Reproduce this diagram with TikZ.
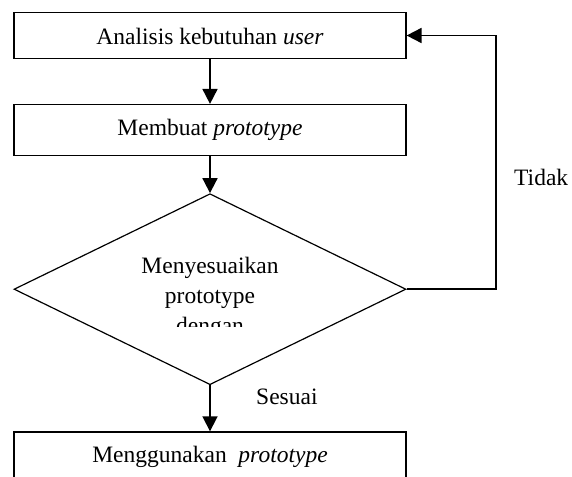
\documentclass[tikz,border=0pt]{standalone}
\usepackage{fontspec}
\setmainfont{Liberation Serif}
\usetikzlibrary{arrows.meta,positioning,shapes.geometric}

\begin{document}
\begin{tikzpicture}[x=1pt, y=-1pt, every node/.style={font=\fontsize{23.5}{30.3}\selectfont},
    box/.style={draw, line width=1.2pt, minimum width=392pt, inner xsep=0pt, inner ysep=0pt},
    arr/.style={line width=1.8pt, -{Triangle[length=15pt,width=15pt]}}]
    \useasboundingbox (0,0) rectangle (572,476);
    \node[box, text height=31.8pt, text depth=13.8pt] (analisis) at (210,35.5) {Analisis kebutuhan \textit{user}};
    \node[box, below=45pt of analisis, text height=31pt, text depth=20pt] (membuat) {Membuat \textit{prototype}};
    \node[draw, diamond, line width=1.2pt, minimum width=392pt, minimum height=191pt, inner sep=0pt, below=37pt of membuat] (sesuaikan) {};
    \node[box, below=46pt of sesuaikan, text height=31pt, text depth=17pt] (menggunakan) {Menggunakan \ \textit{prototype}};
    % teks di dalam belah ketupat, terpotong di bawah
    \begin{scope}
      \clip (14,190) rectangle (406,326);
      \node[align=center, inner sep=0pt, anchor=north] (isi) at (210,256.7) {Menyesuaikan\\prototype\\dengan};
    \end{scope}
    \draw[arr] (analisis) -- (membuat);
    \draw[arr] (membuat) -- (sesuaikan);
    \draw[arr] (sesuaikan) -- (menggunakan);
    \coordinate[right=89pt of sesuaikan.east] (balik);
    \draw[arr] (sesuaikan.east) -- (balik) |- (analisis.east);
    \node[anchor=base west, inner sep=0pt] (tidak) at (514,185) {Tidak};
    \node[anchor=base west, inner sep=0pt] (sesuai) at (256,404) {Sesuai};
  \end{tikzpicture}
\end{document}
